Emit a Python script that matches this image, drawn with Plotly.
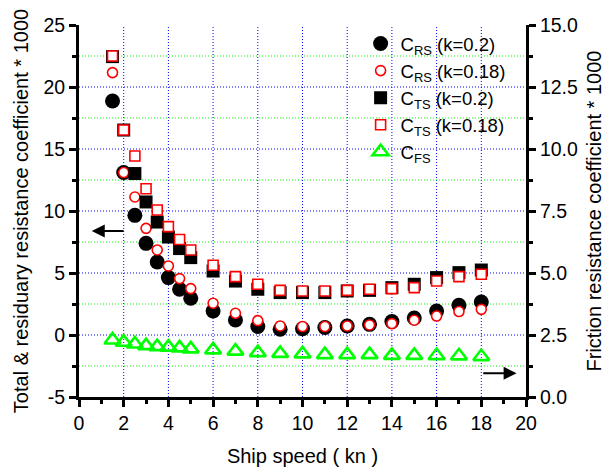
import plotly.graph_objects as go

# ---------------- data ----------------
speed = [1.5, 2, 2.5, 3, 3.5, 4, 4.5, 5, 6, 7, 8, 9, 10, 11, 12, 13, 14, 15, 16, 17, 18]

crs_k020 = [18.87, 13.10, 9.65, 7.39, 5.89, 4.63, 3.69, 2.96, 1.94, 1.21, 0.68,
            0.46, 0.51, 0.60, 0.73, 0.86, 1.08, 1.37, 1.94, 2.40, 2.66]
crs_k018 = [21.16, 13.10, 11.13, 8.60, 6.86, 5.57, 4.55, 3.74, 2.56, 1.75, 1.16,
            0.73, 0.68, 0.68, 0.73, 0.81, 0.92, 1.19, 1.53, 1.89, 2.07]
cts_k020 = [22.45, 16.53, 13.02, 10.73, 9.11, 7.90, 6.97, 6.24, 5.16, 4.35, 3.69,
            3.42, 3.42, 3.42, 3.55, 3.60, 3.82, 4.09, 4.63, 5.03, 5.24]
cts_k018 = [22.50, 16.53, 14.44, 11.80, 10.08, 8.74, 7.70, 6.86, 5.62, 4.71, 4.09,
            3.60, 3.55, 3.55, 3.60, 3.69, 3.74, 3.82, 4.35, 4.71, 4.90]
cfs = [2.30, 2.21, 2.14, 2.07, 2.03, 2.01, 1.98, 1.94, 1.90, 1.85, 1.79,
       1.76, 1.74, 1.71, 1.71, 1.71, 1.68, 1.68, 1.67, 1.66, 1.63]

names = ["C<sub>RS</sub> (k=0.2)", "C<sub>RS</sub> (k=0.18)",
         "C<sub>TS</sub> (k=0.2)", "C<sub>TS</sub> (k=0.18)", "C<sub>FS</sub>"]

# axis ranges / tick steps
x_range, x_step, x_minor_step = [0, 20], 2, 1
y_range, y_step, y_minor_step = [-5, 25], 5, 2.5
y2_range, y2_step, y2_minor_step = [0, 15], 2.5, 1.25

# arrow annotations (head, tail) in axis units
left_arrow = dict(x=0.57, y=8.39, ax=2.06, ay=8.39)
right_arrow = dict(x=19.58, y=0.96, ax=18.02, ay=0.96)

FONT = "Liberation Sans, Arial, sans-serif"
BLUE_GRID = "#0000ff"
GREEN_GRID = "#00ff00"


def inner_steps(lo, hi, step, offset=0.0):
    """Grid positions strictly inside (lo, hi)."""
    vals = []
    v = lo + offset
    while v < hi - 1e-9:
        if v > lo + 1e-9:
            vals.append(round(v, 6))
        v += step
    return vals


fig = go.Figure()
fig.add_trace(go.Scatter(x=speed, y=crs_k020, mode="markers", name=names[0],
                         marker=dict(symbol="circle", size=15, color="black",
                                     line=dict(width=0))))
fig.add_trace(go.Scatter(x=speed, y=crs_k018, mode="markers", name=names[1],
                         marker=dict(symbol="circle", size=10, color="white",
                                     line=dict(width=1.6, color="red"))))
fig.add_trace(go.Scatter(x=speed, y=cts_k020, mode="markers", name=names[2],
                         marker=dict(symbol="square", size=13, color="black",
                                     line=dict(width=0))))
fig.add_trace(go.Scatter(x=speed, y=cts_k018, mode="markers", name=names[3],
                         marker=dict(symbol="square", size=10, color="white",
                                     line=dict(width=1.6, color="red"))))
fig.add_trace(go.Scatter(x=speed, y=cfs, mode="markers", name=names[4], yaxis="y2",
                         marker=dict(symbol="triangle-up-open", size=14,
                                     color="#00ff00", line=dict(width=2.6, color="#00ff00"))))

axis_common = dict(showline=True, linecolor="black", linewidth=3,
                    ticks="outside", ticklen=7, tickwidth=2.5, tickcolor="black",
                    tickfont=dict(family=FONT, size=19.5, color="black"),
                    zeroline=False, automargin=False, tickmode="linear", showgrid=False)

minor_common = dict(ticks="outside", ticklen=4, tickwidth=2.5, tickcolor="black",
                    showgrid=False)

fig.update_layout(
    width=611, height=471,
    margin=dict(l=79, r=85, t=25, b=74),
    paper_bgcolor="white", plot_bgcolor="white",
    font=dict(family=FONT, size=18.5, color="black"),
    showlegend=True,
    legend=dict(x=0.63, y=1.0, xanchor="left", yanchor="top",
                bgcolor="rgba(0,0,0,0)", borderwidth=0,
                font=dict(family=FONT, size=18.5, color="black"),
                itemsizing="trace"),
    xaxis=dict(range=x_range, tick0=0, dtick=x_step,
               minor=dict(dtick=x_minor_step, tick0=0, **minor_common),
               title=dict(text="Ship speed ( kn )", standoff=16,
                          font=dict(family=FONT, size=20, color="black")),
               **axis_common),
    yaxis=dict(range=y_range, tick0=0, dtick=y_step, labelalias={"\u22125": "-5"},
               minor=dict(dtick=y_minor_step, tick0=0, **minor_common),
               title=dict(text="Total & residuary resistance coefficient * 1000",
                          standoff=10, font=dict(family=FONT, size=20, color="black")),
               **axis_common),
    yaxis2=dict(range=y2_range, overlaying="y", side="right", anchor="x",
                tick0=0, dtick=y2_step, tickformat=".1f",
                minor=dict(dtick=y2_minor_step, tick0=0, **minor_common),
                title=dict(text="Friction resistance coefficient * 1000",
                           standoff=10, font=dict(family=FONT, size=20, color="black")),
                **axis_common),
)

# dotted grid: blue at major ticks, green at the minor (half-step) positions
grid_line = dict(width=1, dash="1px,2px")
for gx in inner_steps(x_range[0], x_range[1], x_step):
    fig.add_shape(type="line", xref="x", yref="paper", x0=gx, x1=gx, y0=0, y1=1,
                  layer="below", line=dict(color=BLUE_GRID, **grid_line))
for gy in inner_steps(y_range[0], y_range[1], y_step):
    fig.add_shape(type="line", xref="paper", yref="y", x0=0, x1=1, y0=gy, y1=gy,
                  layer="below", line=dict(color=BLUE_GRID, **grid_line))
for gy in inner_steps(y_range[0], y_range[1], y_step, offset=y_minor_step):
    fig.add_shape(type="line", xref="paper", yref="y", x0=0, x1=1, y0=gy, y1=gy,
                  layer="below", line=dict(color=GREEN_GRID, **grid_line))

for arr, yref in ((left_arrow, "y"), (right_arrow, "y2")):
    fig.add_annotation(x=arr["x"], y=arr["y"], ax=arr["ax"], ay=arr["ay"],
                       xref="x", yref=yref, axref="x", ayref=yref,
                       text="", showarrow=True, arrowhead=2, arrowsize=1.3,
                       arrowwidth=2, arrowcolor="black")

fig.write_html("out.html")
